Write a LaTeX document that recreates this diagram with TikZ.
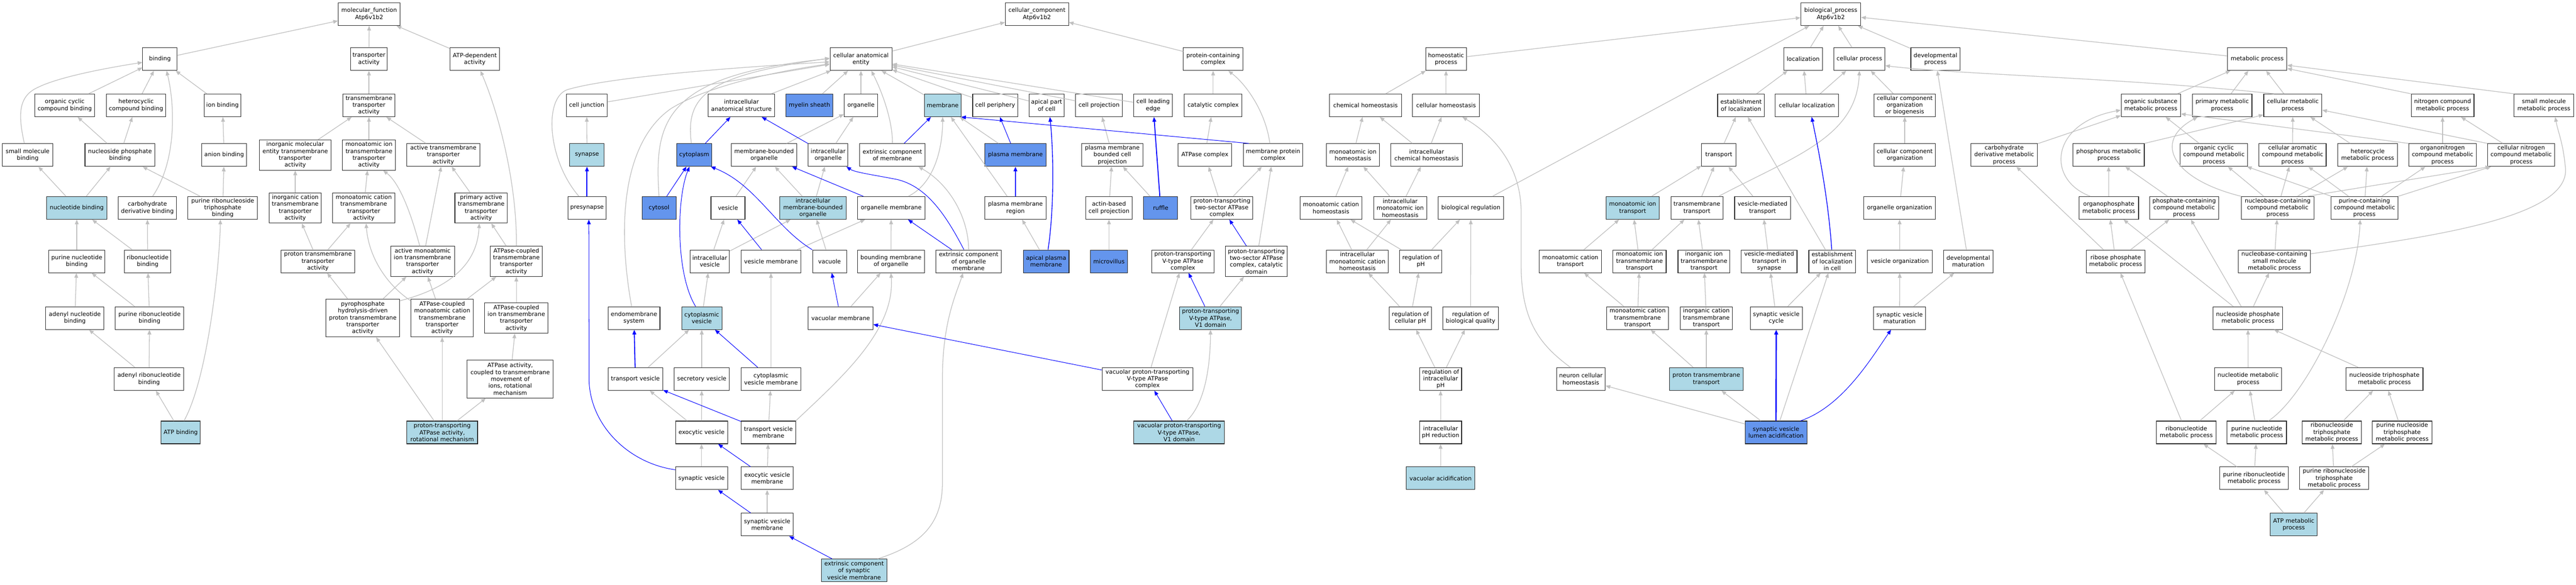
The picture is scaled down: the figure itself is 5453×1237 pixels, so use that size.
\documentclass[tikz,border=0pt]{standalone}
\usepackage{fontspec}
\setmainfont{DejaVu Sans}
\usetikzlibrary{arrows.meta}
\definecolor{hitblue}{HTML}{ADD8E6}
\definecolor{cornblue}{HTML}{6495ED}
\definecolor{edgegray}{HTML}{C0C0C0}
\newcommand{\gofont}{\fontsize{12.3}{14.6}\selectfont}

\begin{document}
\begin{tikzpicture}[x=1pt,y=-1pt,
  term/.style={draw=black!85,line width=1.2pt,fill=white,inner sep=0pt,minimum height=48,align=center,font=\gofont},
  hit/.style={term,fill=hitblue},
  hot/.style={term,fill=cornblue},
  wd/.style={minimum width=#1},
  tall/.style={minimum height=64},
  taller/.style={minimum height=80},
  isa/.style={draw=edgegray,line width=1.4pt,-{Triangle[length=10pt,width=8pt]}},
  partof/.style={draw=blue,line width=1.1pt,-{Triangle[length=10pt,width=8pt]}},
  strong/.style={line width=2pt}]
\useasboundingbox (0,0) rectangle (5453,1237);

% molecular function
\node[term,wd=131] (mf) at (781.5,30) {molecular\_function\\Atp6v1b2};
\node[term,wd=73] (bind) at (338.5,125) {binding};
\node[term,wd=78] (trans) at (781,125) {transporter\\activity};
\node[term,wd=104] (atpdep) at (1005,125) {ATP-dependent\\activity};
\node[term,wd=126] (ocb) at (137,223) {organic cyclic\\compound binding};
\node[term,wd=126] (hcb) at (288,223) {heterocyclic\\compound binding};
\node[term,wd=78] (ionb) at (471,223) {ion binding};
\node[term,wd=110] (tmta) at (781,223) {transmembrane\\transporter\\activity};
\node[term,wd=107] (smb) at (58.5,328) {small molecule\\binding};
\node[term,wd=148] (npb) at (254,328) {nucleoside phosphate\\binding};
\node[term,wd=95] (anb) at (474.5,328) {anion binding};
\node[term,tall,wd=152] (imeta) at (625,328) {inorganic molecular\\entity transmembrane\\transporter\\activity};
\node[term,tall,wd=112] (mita) at (781,328) {monoatomic ion\\transmembrane\\transporter\\activity};
\node[term,wd=155] (acta) at (938.5,328) {active transmembrane\\transporter\\activity};
\node[hit,wd=127] (nucb) at (162.5,440) {nucleotide binding};
\node[term,wd=124] (cdb) at (312,440) {carbohydrate\\derivative binding};
\node[term,wd=147] (prtb) at (471.5,440) {purine ribonucleoside\\triphosphate\\binding};
\node[term,tall,wd=110] (icta) at (625,440) {inorganic cation\\transmembrane\\transporter\\activity};
\node[term,tall,wd=132] (mcta) at (770,440) {monoatomic cation\\transmembrane\\transporter\\activity};
\node[term,tall,wd=111] (pata) at (1018.5,440) {primary active\\transmembrane\\transporter\\activity};
\node[term,wd=119] (pnb) at (162.5,553) {purine nucleotide\\binding};
\node[term,wd=99] (rnb) at (312.5,553) {ribonucleotide\\binding};
\node[term,wd=156] (ptta) at (673,553) {proton transmembrane\\transporter\\activity};
\node[term,tall,wd=135] (amita) at (894.5,553) {active monoatomic\\ion transmembrane\\transporter\\activity};
\node[term,tall,wd=110] (actta) at (1093,553) {ATPase-coupled\\transmembrane\\transporter\\activity};
\node[term,wd=123] (adnb) at (158.5,673) {adenyl nucleotide\\binding};
\node[term,wd=145] (prnb) at (316.5,673) {purine ribonucleotide\\binding};
\node[term,taller,wd=156] (pyro) at (768,673) {pyrophosphate\\hydrolysis-driven\\proton transmembrane\\transporter\\activity};
\node[term,taller,wd=132] (acmc) at (936,673) {ATPase-coupled\\monoatomic cation\\transmembrane\\transporter\\activity};
\node[term,tall,wd=134] (acion) at (1093,673) {ATPase-coupled\\ion transmembrane\\transporter\\activity};
\node[term,wd=147] (adrnb) at (315.5,802) {adenyl ribonucleotide\\binding};
\node[term,taller,wd=182] (atpact) at (1080,802) {ATPase activity,\\coupled to transmembrane\\movement of\\ions, rotational\\mechanism};
\node[hit,wd=83] (atpb) at (382.5,915) {ATP binding};
\node[hit,wd=150] (ptrot) at (936,915) {proton-transporting\\ATPase activity,\\rotational mechanism};

% cellular component
\node[term,wd=134] (cc) at (2195,30) {cellular\_component\\Atp6v1b2};
\node[term,wd=131] (cae) at (1822.5,125) {cellular anatomical\\entity};
\node[term,wd=126] (pcc) at (2568,125) {protein-containing\\complex};
\node[term,wd=86] (cjunc) at (1242,223) {cell junction};
\node[term,wd=141] (ias) at (1569.5,223) {intracellular\\anatomical structure};
\node[hot,wd=99] (myelin) at (1713.5,223) {myelin sheath};
\node[term,wd=71] (organelle) at (1822.5,223) {organelle};
\node[hit,wd=77] (membrane) at (1995.5,223) {membrane};
\node[term,wd=95] (cellper) at (2106.5,223) {cell periphery};
\node[term,wd=75] (apical) at (2215.5,223) {apical part\\of cell};
\node[term,wd=99] (cellproj) at (2326.5,223) {cell projection};
\node[term,wd=82] (cle) at (2441,223) {cell leading\\edge};
\node[term,wd=122] (catcx) at (2568,223) {catalytic complex};
\node[hit,wd=73] (synapse) at (1242.5,328) {synapse};
\node[hot,wd=75] (cytoplasm) at (1469.5,328) {cytoplasm};
\node[term,wd=139] (mbo) at (1617.5,328) {membrane-bounded\\organelle};
\node[term,wd=84] (iorg) at (1753,328) {intracellular\\organelle};
\node[term,wd=138] (ectm) at (1889,328) {extrinsic component\\of membrane};
\node[hot,wd=129] (pm) at (2149.5,328) {plasma membrane};
\node[term,wd=129] (pmbcp) at (2354.5,328) {plasma membrane\\bounded cell\\projection};
\node[term,wd=113] (atpcx) at (2550.5,328) {ATPase complex};
\node[term,wd=126] (mpc) at (2695,328) {membrane protein\\complex};
\node[term,wd=81] (presyn) at (1242.5,440) {presynapse};
\node[hot,wd=72] (cytosol) at (1395,440) {cytosol};
\node[term,wd=72] (vesicle) at (1541,440) {vesicle};
\node[hit,wd=140] (imbo) at (1721,440) {intracellular\\membrane-bounded\\organelle};
\node[term,wd=143] (orgmem) at (1886.5,440) {organelle membrane};
\node[term,wd=129] (pmr) at (2149.5,440) {plasma membrane\\region};
\node[term,wd=99] (abcp) at (2347.5,440) {actin-based\\cell projection};
\node[hot,wd=72] (ruffle) at (2457,440) {ruffle};
\node[term,wd=131] (ptts) at (2586.5,440) {proton-transporting\\two-sector ATPase\\complex};
\node[term,wd=83] (iv) at (1502.5,553) {intracellular\\vesicle};
\node[term,wd=126] (vesmem) at (1632,553) {vesicle membrane};
\node[term,wd=72] (vacuole) at (1756,553) {vacuole};
\node[term,wd=142] (bmo) at (1886,553) {bounding membrane\\of organelle};
\node[term,wd=139] (ecom) at (2050.5,553) {extrinsic component\\of organelle\\membrane};
\node[hot,wd=97] (apm) at (2214.5,553) {apical plasma\\membrane};
\node[hot,wd=79] (mv) at (2347.5,553) {microvillus};
\node[term,wd=132] (ptv) at (2504,553) {proton-transporting\\V-type ATPase\\complex};
\node[term,tall,wd=131] (ptcat) at (2659.5,553) {proton-transporting\\two-sector ATPase\\complex, catalytic\\domain};
\node[term,wd=110] (endo) at (1342,673) {endomembrane\\system};
\node[hit,wd=85] (cytves) at (1485.5,673) {cytoplasmic\\vesicle};
\node[term,wd=137] (vacmem) at (1779.5,673) {vacuolar membrane};
\node[hit,wd=131] (ptv1) at (2562.5,673) {proton-transporting\\V-type ATPase,\\V1 domain};
\node[term,wd=116] (tv) at (1345,802) {transport vesicle};
\node[term,wd=117] (secv) at (1485.5,802) {secretory vesicle};
\node[term,wd=126] (cvm) at (1632,802) {cytoplasmic\\vesicle membrane};
\node[term,wd=192] (vacv) at (2429,802) {vacuolar proton-transporting\\V-type ATPase\\complex};
\node[term,wd=110] (exov) at (1485,915) {exocytic vesicle};
\node[term,wd=115] (tvm) at (1626.5,915) {transport vesicle\\membrane};
\node[hit,wd=192] (vacv1) at (2496,915) {vacuolar proton-transporting\\V-type ATPase,\\V1 domain};
\node[term,wd=110] (sv) at (1485,1012) {synaptic vesicle};
\node[term,wd=110] (evm) at (1624,1012) {exocytic vesicle\\membrane};
\node[term,wd=110] (svm) at (1624,1110) {synaptic vesicle\\membrane};
\node[hit,wd=138] (ecsvm) at (1808,1207) {extrinsic component\\of synaptic\\vesicle membrane};

% biological process
\node[term,wd=127] (bp) at (3875.5,30) {biological\_process\\Atp6v1b2};
\node[term,wd=86] (homeo) at (3061,125) {homeostatic\\process};
\node[term,wd=82] (loc) at (3817,125) {localization};
\node[term,wd=108] (cellproc) at (3936,125) {cellular process};
\node[term,wd=104] (devp) at (4097,125) {developmental\\process};
\node[term,wd=126] (metab) at (4778,125) {metabolic process};
\node[term,wd=153] (chemh) at (2890.5,223) {chemical homeostasis};
\node[term,wd=142] (cellh) at (3061,223) {cellular homeostasis};
\node[term,wd=99] (estloc) at (3685.5,223) {establishment\\of localization};
\node[term,wd=134] (cellloc) at (3825,223) {cellular localization};
\node[term,wd=130] (ccob) at (4032,223) {cellular component\\organization\\or biogenesis};
\node[term,wd=126] (osmp) at (4553,223) {organic substance\\metabolic process};
\node[term,wd=126] (pmp) at (4704,223) {primary metabolic\\process};
\node[term,wd=123] (cellmp) at (4853.5,223) {cellular metabolic\\process};
\node[term,wd=133] (ncmp) at (5170.5,223) {nitrogen compound\\metabolic process};
\node[term,wd=126] (smmp) at (5385,223) {small molecule\\metabolic process};
\node[term,wd=112] (mih) at (2864,328) {monoatomic ion\\homeostasis};
\node[term,wd=152] (ich) at (3020,328) {intracellular\\chemical homeostasis};
\node[term,wd=73] (transport) at (3638.5,328) {transport};
\node[term,wd=130] (ccorg) at (4032,328) {cellular component\\organization};
\node[term,wd=141] (cdmp) at (4242.5,328) {carbohydrate\\derivative metabolic\\process};
\node[term,wd=151] (phmp) at (4463.5,328) {phosphorus metabolic\\process};
\node[term,wd=143] (ocmp) at (4686.5,328) {organic cyclic\\compound metabolic\\process};
\node[term,wd=142] (camp) at (4853,328) {cellular aromatic\\compound metabolic\\process};
\node[term,wd=126] (hmp) at (5012,328) {heterocycle\\metabolic process};
\node[term,wd=143] (onmp) at (5170.5,328) {organonitrogen\\compound metabolic\\process};
\node[term,wd=142] (cnmp) at (5337,328) {cellular nitrogen\\compound metabolic\\process};
\node[term,wd=131] (mch) at (2817.5,440) {monoatomic cation\\homeostasis};
\node[term,wd=112] (imih) at (2964,440) {intracellular\\monoatomic ion\\homeostasis};
\node[term,wd=139] (biolreg) at (3113.5,440) {biological regulation};
\node[hit,wd=112] (mit) at (3456,440) {monoatomic ion\\transport};
\node[term,wd=110] (tmt) at (3592,440) {transmembrane\\transport};
\node[term,wd=118] (vmt) at (3731,440) {vesicle-mediated\\transport};
\node[term,wd=152] (orgorg) at (4021,440) {organelle organization};
\node[term,wd=126] (opmp) at (4464,440) {organophosphate\\metabolic process};
\node[term,wd=147] (pcmp) at (4623.5,440) {phosphate-containing\\compound metabolic\\process};
\node[term,wd=153] (nbcmp) at (4821.5,440) {nucleobase-containing\\compound metabolic\\process};
\node[term,wd=142] (pccmp) at (5005,440) {purine-containing\\compound metabolic\\process};
\node[term,wd=131] (imch) at (2873.5,553) {intracellular\\monoatomic cation\\homeostasis};
\node[term,wd=89] (regph) at (3007.5,553) {regulation of\\pH};
\node[term,wd=132] (mct) at (3324,553) {monoatomic cation\\transport};
\node[term,wd=113] (mitt) at (3470.5,553) {monoatomic ion\\transmembrane\\transport};
\node[term,wd=110] (iitt) at (3607,553) {inorganic ion\\transmembrane\\transport};
\node[term,wd=118] (vmts) at (3745,553) {vesicle-mediated\\transport in\\synapse};
\node[term,wd=99] (elic) at (3878.5,553) {establishment\\of localization\\in cell};
\node[term,wd=137] (vesorg) at (4021.5,553) {vesicle organization};
\node[term,wd=105] (devmat) at (4166.5,553) {developmental\\maturation};
\node[term,wd=125] (rpmp) at (4478.5,553) {ribose phosphate\\metabolic process};
\node[term,wd=153] (nbsm) at (4814.5,553) {nucleobase-containing\\small molecule\\metabolic process};
\node[term,wd=89] (regcph) at (2985.5,673) {regulation of\\cellular pH};
\node[term,wd=118] (rbq) at (3113,673) {regulation of\\biological quality};
\node[term,wd=131] (mctt) at (3466.5,673) {monoatomic cation\\transmembrane\\transport};
\node[term,wd=110] (ictt) at (3612,673) {inorganic cation\\transmembrane\\transport};
\node[term,wd=110] (svc) at (3760,673) {synaptic vesicle\\cycle};
\node[term,wd=110] (svmat) at (4021,673) {synaptic vesicle\\maturation};
\node[term,wd=147] (npmp) at (4758.5,673) {nucleoside phosphate\\metabolic process};
\node[term,wd=89] (regiph) at (3049.5,802) {regulation of\\intracellular\\pH};
\node[term,wd=103] (neuronh) at (3346.5,802) {neuron cellular\\homeostasis};
\node[hit,wd=156] (ptt) at (3612,802) {proton transmembrane\\transport};
\node[term,wd=142] (nucmp) at (4759,802) {nucleotide metabolic\\process};
\node[term,wd=163] (ntpmp) at (5047.5,802) {nucleoside triphosphate\\metabolic process};
\node[term,wd=89] (iphred) at (3049.5,915) {intracellular\\pH reduction};
\node[hot,wd=131] (lumen) at (3759.5,915) {synaptic vesicle\\lumen acidification};
\node[term,wd=126] (rnmp) at (4628,915) {ribonucleotide\\metabolic process};
\node[term,wd=126] (pnmp) at (4777,915) {purine nucleotide\\metabolic process};
\node[term,wd=126] (rntpmp) at (4936,915) {ribonucleoside\\triphosphate\\metabolic process};
\node[term,wd=126] (pntpmp) at (5085,915) {purine nucleoside\\triphosphate\\metabolic process};
\node[hit,wd=145] (vacacid) at (3049.5,1012) {vacuolar acidification};
\node[term,wd=145] (prnmp) at (4771.5,1012) {purine ribonucleotide\\metabolic process};
\node[term,wd=146] (prntpmp) at (4941,1012) {purine ribonucleoside\\triphosphate\\metabolic process};
\node[hit,wd=99] (atpmp) at (4855.5,1110) {ATP metabolic\\process};

% is_a edges, child/parent
\foreach \a/\b in {bind/mf, trans/mf, atpdep/mf, ocb/bind, hcb/bind, ionb/bind, tmta/trans,
    npb/ocb, npb/hcb, anb/ionb, imeta/tmta, mita/tmta, acta/tmta, nucb/smb, nucb/npb,
    prtb/npb, prtb/anb, icta/imeta, mcta/mita, pata/acta, pnb/nucb, rnb/nucb, rnb/cdb,
    ptta/icta, ptta/mcta, amita/acta, actta/pata, adnb/pnb, prnb/pnb, prnb/rnb,
    pyro/ptta, pyro/amita, acmc/amita, acmc/actta, acion/actta, adrnb/adnb, adrnb/prnb,
    atpact/acion, atpb/adrnb, ptrot/pyro, ptrot/acmc, ptrot/atpact}
  \draw[isa] (\a) -- (\b);

\foreach \a/\b in {cae/cc, pcc/cc, cjunc/cae, ias/cae, myelin/cae, organelle/cae, membrane/cae,
    cellper/cae, apical/cae, cellproj/cae, cle/cae, catcx/pcc, synapse/cjunc, mbo/organelle,
    iorg/organelle, pm/membrane, pmr/membrane, pmbcp/cellproj, atpcx/catcx, ptts/atpcx,
    ptts/mpc, vesicle/mbo, imbo/mbo, imbo/iorg, bmo/orgmem, apm/pmr, abcp/pmbcp,
    ruffle/pmbcp, mv/abcp, ptv/ptts, ptcat/mpc, iv/vesicle, iv/imbo, vesmem/orgmem,
    vacuole/imbo, vacmem/bmo, cytves/iv, ptv1/ptcat, tv/cytves, secv/cytves, cvm/vesmem,
    vacv/ptv, exov/tv, exov/secv, tvm/cvm, sv/exov, evm/tvm, svm/evm}
  \draw[isa] (\a) -- (\b);

\foreach \a/\b in {homeo/bp, loc/bp, cellproc/bp, devp/bp, metab/bp, biolreg/bp, chemh/homeo,
    cellh/homeo, estloc/loc, cellloc/loc, cellloc/cellproc, ccob/cellproc, osmp/metab,
    pmp/metab, cellmp/metab, mih/chemh, ich/chemh, ich/cellh, transport/estloc,
    ccorg/ccob, cdmp/osmp, ocmp/osmp, camp/cellmp, hmp/cellmp, onmp/ncmp, cnmp/ncmp,
    mch/mih, imih/mih, imih/ich, mit/transport, tmt/transport, vmt/transport,
    orgorg/ccorg, opmp/phmp, pcmp/phmp, nbcmp/ocmp, nbcmp/camp, nbcmp/hmp, pccmp/hmp,
    pccmp/onmp, pccmp/ocmp, pccmp/camp, imch/mch, imch/imih, regph/mch,
    regph/biolreg, mct/mit, mitt/mit, mitt/tmt, iitt/tmt, vmts/vmt, elic/estloc,
    vesorg/orgorg, devmat/devp, rpmp/cdmp, rpmp/opmp, rpmp/pcmp, nbsm/nbcmp,
    regcph/imch, regcph/regph, rbq/biolreg, mctt/mct, mctt/mitt, ictt/iitt, svc/vmts,
    svc/elic, svmat/vesorg, svmat/devmat, npmp/pcmp, npmp/opmp, npmp/nbsm,
    regiph/regcph, regiph/rbq, ptt/mctt, ptt/ictt, nucmp/npmp, ntpmp/npmp,
    iphred/regiph, lumen/elic, lumen/ptt, lumen/neuronh, rnmp/nucmp, rnmp/rpmp,
    pnmp/nucmp, rntpmp/ntpmp, pntpmp/ntpmp, vacacid/iphred, prnmp/rnmp, prnmp/pnmp,
    prntpmp/rntpmp, prntpmp/pntpmp, atpmp/prnmp, atpmp/prntpmp}
  \draw[isa] (\a) -- (\b);

% is_a edges that bend
\draw[isa] ([xshift=-7]smb.north) .. controls (40,250) and (35,205) .. (80,185)
  .. controls (130,160) and (250,140) .. ([yshift=-7]bind.west);
\draw[isa] ([xshift=11]cdb.north) .. controls (375,340) and (370,220) .. ([xshift=14]bind.south);
\draw[isa] ([xshift=7]atpb.north) .. controls (440,800) and (465,560) .. ([xshift=-5]prtb.south);
\draw[isa] ([xshift=-6]amita.north) .. controls (875,470) and (850,390) .. ([xshift=30]mita.south);
\draw[isa] ([yshift=-4]pyro.north east) .. controls (950,610) and (1010,560) .. ([xshift=-4]pata.south);
\draw[isa] ([yshift=-4]acmc.north west) .. controls (815,600) and (780,540) .. ([xshift=5]mcta.south);
\draw[isa] (actta.north) .. controls (1095,400) and (1060,250) .. ([xshift=12]atpdep.south);

\draw[isa] ([xshift=-17]presyn.north) .. controls (1160,340) and (1150,210) .. (1200,190)
  .. controls (1300,160) and (1600,140) .. ([yshift=-6]cae.west);
\draw[isa] ([xshift=-6]cytoplasm.north) .. controls (1450,200) and (1500,160) .. ([yshift=2]cae.west);
\draw[isa] (cytosol.north) .. controls (1385,260) and (1400,160) .. ([yshift=1]cae.west);
\draw[isa] ([xshift=-5]endo.north) .. controls (1305,470) and (1320,300) .. (1420,230)
  .. controls (1500,180) and (1650,150) .. ([yshift=-10]cae.west);
\draw[isa] ([xshift=36]orgmem.north) .. controls (1975,390) and (1995,320) .. (membrane.south);
\draw[isa] (ectm.north) .. controls (1890,260) and (1870,200) .. ([xshift=22]cae.south);
\draw[isa] (ecom.north) .. controls (2050,460) and (2010,390) .. ([xshift=55]ectm.south);
\draw[isa] ([xshift=-7]mpc.north) .. controls (2680,240) and (2640,180) .. ([xshift=32]pcc.south);
\draw[isa] ([xshift=16]vacv1.north) .. controls (2555,850) and (2562,760) .. (ptv1.south);
\draw[isa] (tvm.north east) .. controls (1780,800) and (1895,700) .. (bmo.south);
\draw[isa] ([xshift=50]ecsvm.north) .. controls (1960,1150) and (1995,1100) .. (1995,1020)
  -- (1995,800) .. controls (1995,680) and (2025,620) .. ([xshift=-12]ecom.south);

\draw[isa] ([xshift=-22]neuronh.north) .. controls (3260,730) and (3220,680) .. (3220,560)
  -- (3220,450) .. controls (3220,340) and (3150,280) .. ([xshift=-37]cellh.south east);
\draw[isa] ([xshift=46]tmt.north) .. controls (3800,330) and (3930,290) .. (cellproc.south);
\draw[isa] ([xshift=-40]cellmp.north) .. controls (4500,165) and (4150,158) .. ([yshift=-14]cellproc.east);
\draw[isa] (ncmp.north west) -- ([yshift=-20]metab.east);
\draw[isa] (smmp.north west) -- ([yshift=-13]metab.east);
\draw[isa] (phmp.north east) -- ([yshift=-20]cellmp.west);
\draw[isa] (onmp.north west) -- ([yshift=-18]osmp.east);
\draw[isa] (cnmp.north west) -- ([yshift=-10]cellmp.east);
\draw[isa] ([xshift=-15]nbcmp.north east) -- ([xshift=6]cnmp.south west);
\draw[isa] (pccmp.north east) -- ([xshift=8]cnmp.south west);
\draw[isa] ([xshift=-39]opmp.north) .. controls (4330,380) and (4340,260) .. ([yshift=-10]osmp.west);
\draw[isa] (nbcmp.north west) .. controls (4600,380) and (4555,300) .. ([xshift=-52]pmp.south);
\draw[isa] ([yshift=16]nbsm.east) .. controls (5150,500) and (5450,460) .. (5430,350)
  .. controls (5425,300) and (5415,280) .. ([xshift=24]smmp.south);
\draw[isa] ([xshift=25]pnmp.north) .. controls (4880,840) and (4990,620) .. ([xshift=-9]pccmp.south);

% part_of edges
\foreach \a/\b in {cytoplasm/ias, cytosol/cytoplasm, iorg/ias, orgmem/mbo, ectm/membrane,
    pm/cellper, vesmem/vesicle, ecom/orgmem, vacmem/vacuole, ptcat/ptts, ptv1/ptv,
    cvm/cytves, vacv/vacmem, vacv1/vacv, tvm/tv, evm/exov, svm/sv, ecsvm/svm}
  \draw[partof] (\a) -- (\b);
\foreach \a/\b in {presyn/synapse, pmr/pm, ruffle/cle, tv/endo}
  \draw[partof,strong] (\a) -- (\b);
\draw[partof,line width=2.6pt] (lumen) -- (svc);
\draw[partof] ([xshift=12]mpc.north west) -- (membrane.south east);
\draw[partof] (vacuole.north west) .. controls (1640,480) and (1600,390) .. ([xshift=35]cytoplasm.south);
\draw[partof] ([xshift=-13]cytves.north) .. controls (1430,580) and (1432,420) .. ([xshift=-10]cytoplasm.south);
\draw[partof] ([xshift=-10]ecom.north) .. controls (2000,450) and (1960,395) .. (1900,380)
  .. controls (1850,370) and (1810,365) .. ([xshift=-4]iorg.south east);
\draw[partof,line width=1.5pt] ([xshift=4]apm.north) .. controls (2232,440) and (2230,320) .. ([xshift=7]apical.south);
\draw[partof] ([yshift=18]sv.west) .. controls (1330,980) and (1250,900) .. (1247,806)
  -- ([xshift=4]presyn.south);
\draw[partof,line width=1.5pt] ([xshift=-1]elic.north) .. controls (3870,420) and (3850,320) .. ([xshift=10]cellloc.south);
\draw[partof] ([xshift=52]lumen.north) .. controls (3900,860) and (3960,760) .. ([xshift=-18]svmat.south);
\end{tikzpicture}
\end{document}
